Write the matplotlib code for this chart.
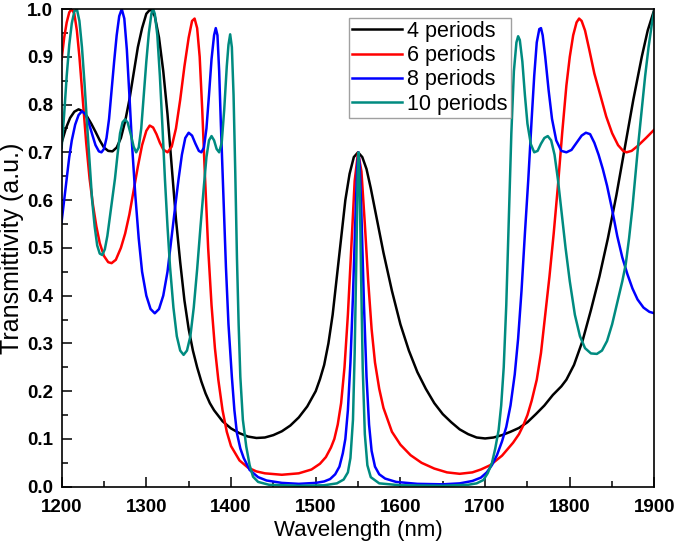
import matplotlib
matplotlib.use("Agg")
import matplotlib.pyplot as plt
from matplotlib.ticker import MultipleLocator, FormatStrFormatter

plt.rcParams['font.family'] = ['Liberation Sans', 'DejaVu Sans']

# values (wavelength in nm, transmittivity)
wl_4 = [1200, 1205, 1210, 1215, 1220, 1225, 1230, 1235, 1240, 1245, 1250, 1255, 1260, 1265,
        1270, 1275, 1280, 1285, 1290, 1295, 1300, 1305, 1310, 1315, 1320, 1325, 1330, 1335,
        1340, 1345, 1350, 1355, 1360, 1365, 1370, 1375, 1380, 1390, 1400, 1410, 1420, 1430,
        1440, 1450, 1460, 1470, 1480, 1490, 1500, 1505, 1510, 1515, 1520, 1525, 1530, 1535,
        1540, 1545, 1550, 1555, 1560, 1565, 1570, 1575, 1580, 1590, 1600, 1610, 1620, 1630,
        1640, 1650, 1660, 1670, 1680, 1690, 1700, 1710, 1720, 1730, 1740, 1750, 1760, 1770,
        1780, 1790, 1796, 1805, 1815, 1825, 1835, 1845, 1855, 1865, 1875, 1885, 1892, 1900]
t_4 = [0.72, 0.75, 0.772, 0.785, 0.79, 0.786, 0.775, 0.76, 0.743, 0.725, 0.71, 0.703, 0.702, 0.71,
       0.73, 0.765, 0.81, 0.865, 0.92, 0.96, 0.99, 1.0, 0.985, 0.94, 0.87, 0.78, 0.67, 0.56,
       0.47, 0.39, 0.33, 0.285, 0.25, 0.22, 0.195, 0.175, 0.16, 0.137, 0.122, 0.112, 0.105, 0.102,
       0.103, 0.108, 0.116, 0.128, 0.145, 0.168, 0.2, 0.225, 0.255, 0.3, 0.36, 0.44, 0.52, 0.6,
       0.655, 0.69, 0.70, 0.69, 0.665, 0.625, 0.58, 0.535, 0.49, 0.41, 0.34, 0.285, 0.24, 0.205,
       0.175, 0.152, 0.135, 0.12, 0.11, 0.103, 0.101, 0.103, 0.108, 0.115, 0.123, 0.135, 0.152, 0.17,
       0.192, 0.21, 0.224, 0.255, 0.305, 0.37, 0.44, 0.52, 0.61, 0.71, 0.81, 0.9, 0.955, 1.0]

wl_6 = [1200, 1203, 1206, 1209, 1212, 1215, 1218, 1221, 1225, 1229, 1233, 1237, 1241, 1245,
        1250, 1255, 1259, 1264, 1270, 1275, 1280, 1285, 1290, 1295, 1300, 1304, 1308, 1312,
        1316, 1320, 1325, 1330, 1335, 1340, 1345, 1350, 1354, 1357, 1360, 1363, 1366, 1369,
        1373, 1377, 1381, 1385, 1390, 1395, 1400, 1410, 1420, 1430, 1440, 1460, 1480, 1495,
        1505, 1512, 1518, 1522, 1526, 1530, 1534, 1538, 1542, 1546, 1550, 1554, 1558, 1562,
        1566, 1570, 1575, 1580, 1590, 1600, 1612, 1625, 1640, 1655, 1670, 1685, 1695, 1706,
        1720, 1733, 1740, 1745, 1750, 1755, 1761, 1766, 1771, 1776, 1781, 1786, 1791, 1796,
        1800, 1804, 1808, 1811, 1814, 1818, 1823, 1829, 1836, 1843, 1850, 1857, 1863, 1867,
        1873, 1880, 1890, 1900]
t_6 = [0.895, 0.94, 0.972, 0.993, 1.0, 0.99, 0.955, 0.9, 0.81, 0.72, 0.645, 0.59, 0.545, 0.51,
       0.483, 0.47, 0.468, 0.475, 0.5, 0.53, 0.57, 0.62, 0.67, 0.715, 0.745, 0.756, 0.752, 0.738,
       0.72, 0.706, 0.70, 0.712, 0.75, 0.81, 0.88, 0.94, 0.975, 0.98, 0.96, 0.9, 0.79, 0.66,
       0.5, 0.38, 0.29, 0.224, 0.16, 0.115, 0.085, 0.055, 0.04, 0.032, 0.028, 0.025, 0.028, 0.036,
       0.048, 0.062, 0.082, 0.1, 0.13, 0.175, 0.25, 0.36, 0.5, 0.64, 0.70, 0.66, 0.55, 0.43,
       0.33, 0.26, 0.205, 0.165, 0.115, 0.088, 0.066, 0.05, 0.038, 0.03, 0.027, 0.03, 0.036, 0.045,
       0.065, 0.092, 0.11, 0.128, 0.15, 0.18, 0.224, 0.28, 0.36, 0.44, 0.53, 0.63, 0.74, 0.84,
       0.9, 0.945, 0.972, 0.98, 0.975, 0.955, 0.915, 0.865, 0.82, 0.775, 0.74, 0.715, 0.703, 0.70,
       0.703, 0.713, 0.73, 0.748]

wl_8 = [1200, 1203, 1206, 1209, 1212, 1216, 1220, 1224, 1228, 1232, 1236, 1240, 1244, 1247,
        1250, 1253, 1256, 1259, 1262, 1265, 1268, 1271, 1274, 1277, 1280, 1283, 1287, 1291,
        1295, 1300, 1305, 1310, 1315, 1320, 1325, 1330, 1334, 1338, 1342, 1346, 1350, 1354,
        1358, 1362, 1365, 1368, 1371, 1374, 1377, 1380, 1382, 1384, 1386, 1388, 1391, 1394,
        1397, 1401, 1404, 1407, 1411, 1415, 1422, 1432, 1442, 1460, 1480, 1500, 1510, 1517,
        1523, 1528, 1532, 1535, 1538, 1541, 1544, 1547, 1549, 1550.5, 1552, 1554, 1557, 1560,
        1563, 1566, 1570, 1575, 1582, 1595, 1620, 1650, 1670, 1685, 1695, 1702, 1708, 1714,
        1720, 1725, 1730, 1735, 1739, 1743, 1747, 1751, 1755, 1758, 1761, 1764, 1766, 1768,
        1771, 1775, 1779, 1784, 1790, 1796, 1802, 1808, 1814, 1819, 1824, 1829, 1834, 1839,
        1844, 1850, 1856, 1862, 1868, 1874, 1880, 1887, 1894, 1900]
t_8 = [0.555, 0.6, 0.645, 0.69, 0.725, 0.758, 0.778, 0.786, 0.78, 0.762, 0.738, 0.715, 0.702, 0.70,
       0.707, 0.73, 0.77, 0.83, 0.89, 0.945, 0.985, 1.0, 0.98, 0.915, 0.82, 0.72, 0.61, 0.52,
       0.45, 0.4, 0.372, 0.363, 0.372, 0.4, 0.45, 0.525, 0.585, 0.643, 0.695, 0.73, 0.741, 0.735,
       0.718, 0.703, 0.70, 0.71, 0.75, 0.82, 0.895, 0.945, 0.96, 0.945, 0.87, 0.76, 0.61, 0.46,
       0.34, 0.23, 0.16, 0.112, 0.08, 0.06, 0.035, 0.02, 0.013, 0.008, 0.006, 0.008, 0.011, 0.016,
       0.026, 0.042, 0.07, 0.1, 0.16, 0.26, 0.4, 0.57, 0.67, 0.70, 0.67, 0.57, 0.38, 0.23,
       0.13, 0.075, 0.042, 0.026, 0.017, 0.01, 0.006, 0.005, 0.007, 0.012, 0.019, 0.03, 0.045, 0.066,
       0.095, 0.125, 0.17, 0.235, 0.31, 0.41, 0.53, 0.643, 0.77, 0.86, 0.93, 0.958, 0.96, 0.945,
       0.9, 0.83, 0.77, 0.725, 0.703, 0.70, 0.705, 0.72, 0.735, 0.741, 0.738, 0.72, 0.695, 0.665,
       0.63, 0.58, 0.525, 0.48, 0.445, 0.415, 0.392, 0.375, 0.366, 0.363]

wl_10 = [1200, 1203, 1206, 1209, 1212, 1215, 1218, 1221, 1224, 1227, 1230, 1233, 1236, 1239,
         1242, 1245, 1248, 1251, 1254, 1257, 1260, 1263, 1266, 1269, 1272, 1275, 1278, 1282,
         1285, 1288, 1291, 1294, 1297, 1300, 1303, 1306, 1308, 1310, 1313, 1316, 1319, 1322,
         1325, 1328, 1332, 1336, 1340, 1344, 1348, 1352, 1356, 1360, 1364, 1368, 1371, 1374,
         1377, 1380, 1383, 1386, 1389, 1392, 1395, 1397, 1399, 1401, 1403, 1405, 1407, 1409,
         1411, 1414, 1418, 1422, 1426, 1432, 1445, 1480, 1510, 1525, 1533, 1538, 1541, 1544,
         1546, 1548, 1549.5, 1550.5, 1552, 1553.5, 1555.5, 1558, 1561, 1565, 1575, 1600, 1650, 1680,
         1690, 1698, 1703, 1708, 1712, 1716, 1719, 1722, 1725, 1728, 1731, 1734, 1737, 1739,
         1741, 1744, 1747, 1750, 1754, 1758, 1762, 1766, 1770, 1774, 1778, 1782, 1786, 1790,
         1795, 1800, 1806, 1812, 1818, 1825, 1832, 1838, 1844, 1850, 1856, 1862, 1866, 1870,
         1874, 1877, 1881, 1885, 1889, 1893, 1897, 1900]
t_10 = [0.71, 0.78, 0.86, 0.925, 0.97, 0.995, 1.0, 0.975, 0.92, 0.845, 0.76, 0.68, 0.6, 0.545,
        0.505, 0.488, 0.485, 0.497, 0.525, 0.565, 0.605, 0.645, 0.695, 0.74, 0.763, 0.769, 0.762, 0.735,
        0.712, 0.70, 0.71, 0.75, 0.82, 0.89, 0.95, 0.99, 1.0, 0.99, 0.945, 0.86, 0.755, 0.643,
        0.545, 0.46, 0.375, 0.315, 0.285, 0.276, 0.285, 0.315, 0.375, 0.455, 0.545, 0.63, 0.69, 0.725,
        0.734, 0.725, 0.707, 0.70, 0.72, 0.79, 0.88, 0.925, 0.947, 0.92, 0.82, 0.66, 0.48, 0.34,
        0.23, 0.14, 0.084, 0.045, 0.021, 0.01, 0.004, 0.002, 0.003, 0.007, 0.015, 0.03, 0.06, 0.14,
        0.28, 0.48, 0.65, 0.70, 0.62, 0.45, 0.25, 0.11, 0.045, 0.02, 0.007, 0.003, 0.002, 0.004,
        0.007, 0.014, 0.028, 0.049, 0.08, 0.119, 0.17, 0.25, 0.38, 0.56, 0.74, 0.87, 0.93, 0.943,
        0.935, 0.89, 0.82, 0.76, 0.717, 0.70, 0.703, 0.718, 0.73, 0.734, 0.725, 0.695, 0.643, 0.58,
        0.5, 0.43, 0.36, 0.315, 0.29, 0.279, 0.278, 0.285, 0.305, 0.34, 0.385, 0.43, 0.465, 0.52,
        0.585, 0.643, 0.72, 0.79, 0.86, 0.92, 0.97, 1.0]

series = [
    (wl_4, t_4, '4 periods', 'black'),
    (wl_6, t_6, '6 periods', 'red'),
    (wl_8, t_8, '8 periods', 'blue'),
    (wl_10, t_10, '10 periods', '#008B80'),
]

fig = plt.figure(figsize=(6.75, 5.46), dpi=100)
ax = fig.add_axes([0.0913, 0.1086, 0.8783, 0.8749])

for x, y, lab, col in series:
    ax.plot(x, y, color=col, lw=1.8, label=lab)

ax.set_xlim(1200, 1900)
ax.set_ylim(0.0, 1.0)
ax.xaxis.set_major_locator(MultipleLocator(100))
ax.xaxis.set_minor_locator(MultipleLocator(50))
ax.yaxis.set_major_locator(MultipleLocator(0.1))
ax.yaxis.set_minor_locator(MultipleLocator(0.05))
ax.yaxis.set_major_formatter(FormatStrFormatter('%.1f'))

ax.tick_params(which='both', direction='in', top=False, right=False, width=1.1)
ax.tick_params(which='major', length=7)
ax.tick_params(which='minor', length=4)
ax.tick_params(axis='x', which='major', pad=9)
ax.tick_params(axis='y', which='major', pad=6)
for lbl in ax.get_xticklabels() + ax.get_yticklabels():
    lbl.set_fontweight('bold')
    lbl.set_fontsize(13.5)
for s in ax.spines.values():
    s.set_linewidth(1.2)

ax.set_xlabel('Wavelength (nm)', fontsize=16, labelpad=3)
ax.set_ylabel('Transmittivity (a.u.)', fontsize=18, labelpad=2)

leg = ax.legend(loc='upper left', bbox_to_anchor=(0.485, 0.982), fontsize=15.5,
                fancybox=False, frameon=True, handlelength=2.3, handletextpad=0.25,
                labelspacing=0.15, borderpad=0.15, borderaxespad=0.0)
leg.get_frame().set_edgecolor('#888888')
leg.get_frame().set_linewidth(1.0)

fig.savefig('out.png', dpi=100)
